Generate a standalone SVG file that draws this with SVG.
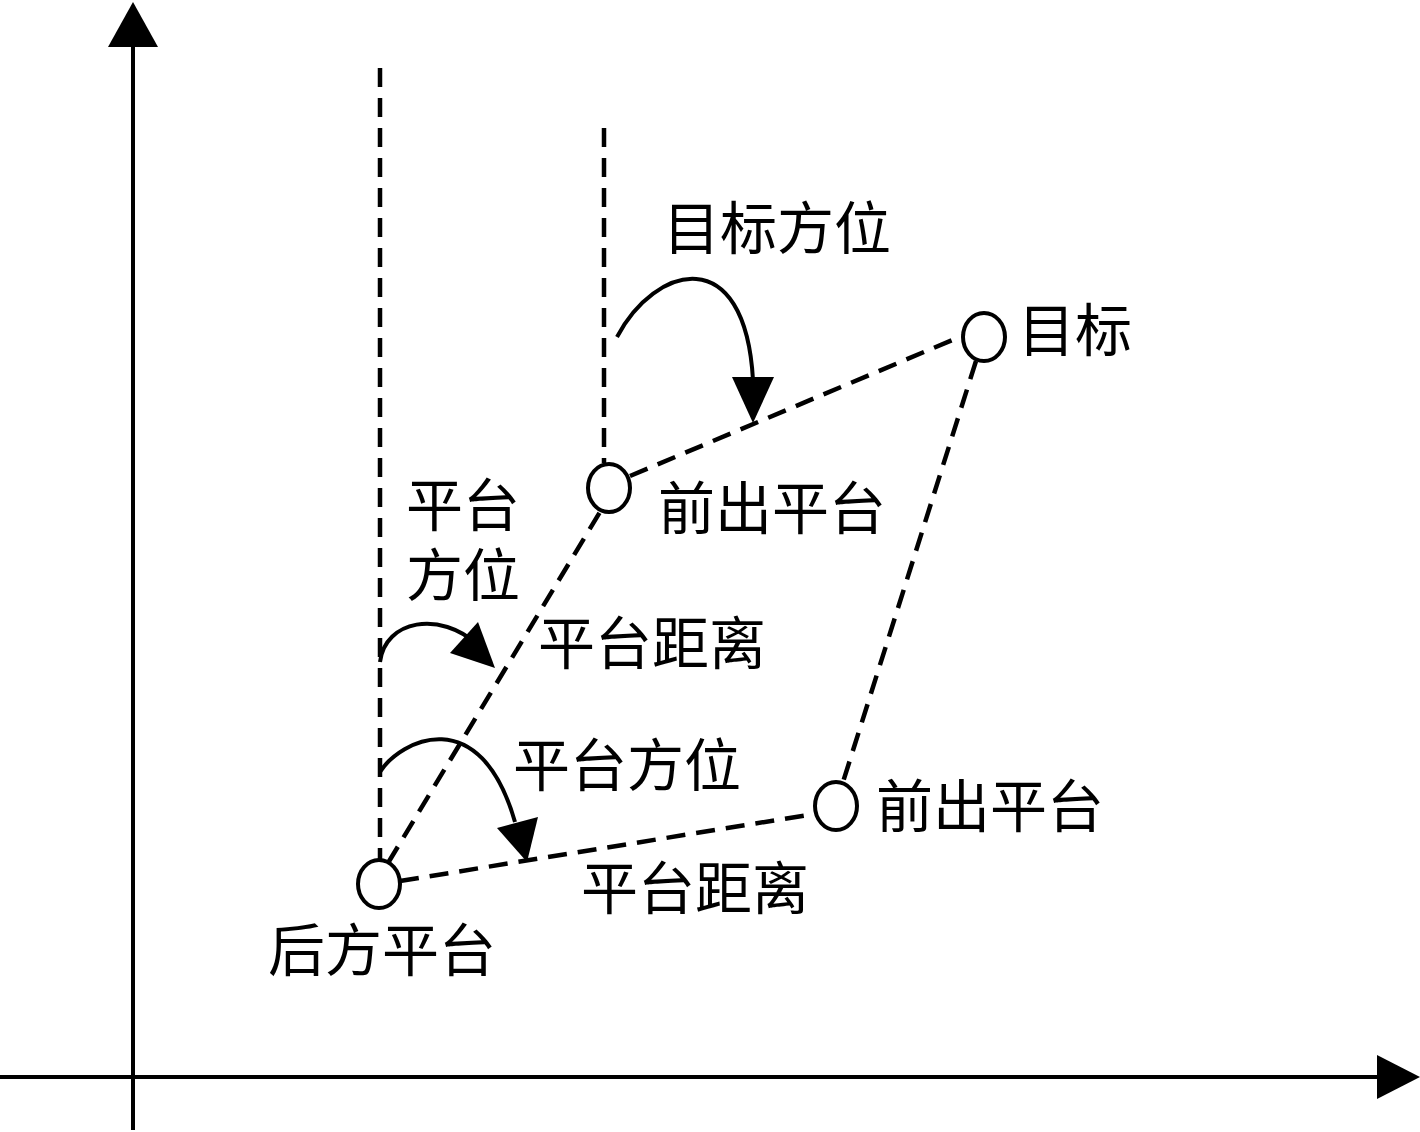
<svg xmlns="http://www.w3.org/2000/svg" width="1420" height="1132" viewBox="0 0 1420 1132">
<style>
.axis{stroke:#000;stroke-width:4;fill:none}
.dash{stroke:#000;stroke-width:4.5;fill:none;stroke-dasharray:19 11}
.arc{stroke:#000;stroke-width:4;fill:none}
.node{stroke:#000;stroke-width:4;fill:#fff}
.head{fill:#000}
text{font-family:"Noto Sans CJK SC","Noto Sans",sans-serif;font-size:57px;fill:#000}
</style>
<rect width="1420" height="1132" fill="#fff"/>
<g id="axes">
<line class="axis" x1="133" y1="1130" x2="133" y2="44"/>
<polygon class="head" points="133,2 108,47 158,47"/>
<line class="axis" x1="0" y1="1077" x2="1380" y2="1077"/>
<polygon class="head" points="1420,1077 1377,1055 1377,1099"/>
</g>
<g id="connectors">
<line class="dash" x1="380" y1="68" x2="380" y2="860"/>
<line class="dash" x1="604" y1="128" x2="604" y2="463"/>
<line class="dash" x1="388" y1="863" x2="600" y2="512"/>
<line class="dash" x1="400" y1="881" x2="814" y2="814"/>
<line class="dash" x1="630" y1="476" x2="962" y2="336"/>
<line class="dash" x1="976" y1="361" x2="843" y2="782"/>
<path class="arc" d="M380,662 C385,620 440,610 478,645"/>
<polygon class="head" points="495,668 450,653 478,622"/>
<path class="arc" d="M380,772 C400,740 480,700 515,822"/>
<polygon class="head" points="527,862 497,828 538,817"/>
<path class="arc" d="M617,337 C655,265 745,240 753,380"/>
<polygon class="head" points="753,423 732,377 774,377"/>
</g>
<g id="n-rear">
<ellipse class="node" cx="379" cy="884" rx="21" ry="24"/>
<text x="268" y="971">后方平台</text>
</g>
<g id="n-front1">
<ellipse class="node" cx="609" cy="488" rx="21" ry="24"/>
<text x="658" y="529">前出平台</text>
</g>
<g id="n-target">
<ellipse class="node" cx="984" cy="337" rx="21" ry="24"/>
<text x="1018" y="351">目标</text>
</g>
<g id="n-front2">
<ellipse class="node" cx="836" cy="806" rx="21" ry="24"/>
<text x="876" y="827">前出平台</text>
</g>
<g id="labels">
<text x="663" y="249">目标方位</text>
<text x="406" y="526">平台<tspan x="406" dy="70">方位</tspan></text>
<text x="538" y="664">平台距离</text>
<text x="513" y="786">平台方位</text>
<text x="581" y="909">平台距离</text>
</g>
</svg>
